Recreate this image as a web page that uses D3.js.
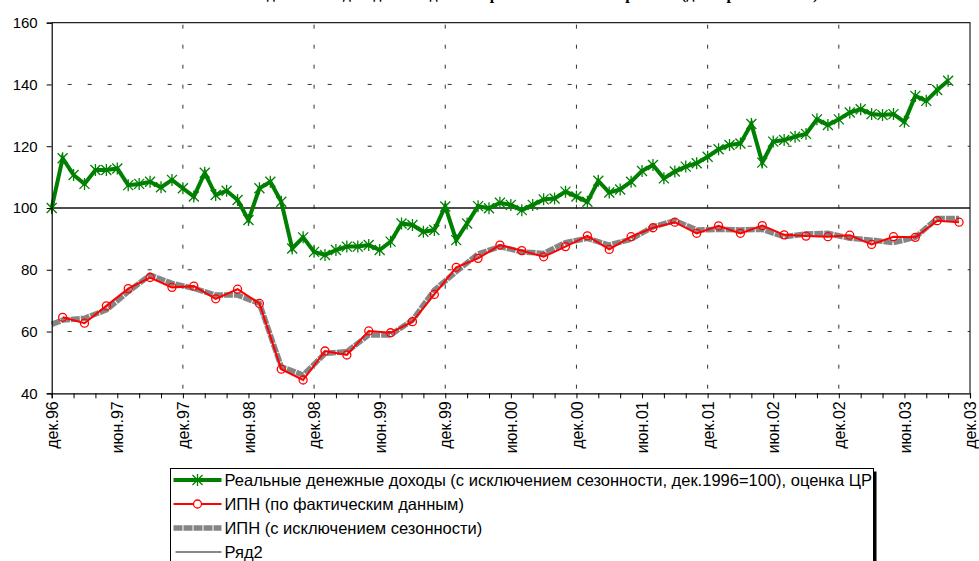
<!DOCTYPE html>
<html>
<head>
<meta charset="utf-8">
<script src="https://cdn.jsdelivr.net/npm/d3@7"></script>
<style>
body { margin: 0; background: #fff; }
text { font-family: "Liberation Sans", Arial, sans-serif; fill: #000; }
</style>
</head>
<body>
<script>
//Tick labels (every 6 months, starting дек.96)
const tickLabels = ["дек.96","июн.97","дек.97","июн.98","дек.98","июн.99","дек.99","июн.00",
                    "дек.00","июн.01","дек.01","июн.02","дек.02","июн.03","дек.03"];
const yTicks = [40, 60, 80, 100, 120, 140, 160];

//Real money incomes, monthly from дек.96
const incomeReal = [100.0,116.1,110.7,107.8,112.3,112.3,112.8,107.4,107.8,108.5,106.7,109.1,
  106.4,103.7,111.4,104.2,105.6,102.6,96.1,106.4,108.5,102.0,86.9,90.5,
  85.8,84.8,86.4,87.5,87.5,88.0,86.4,89.1,95.0,94.5,92.3,92.9,
  100.5,89.6,95.0,100.6,99.9,101.7,101.0,99.3,101.0,102.8,103.1,105.3,
  103.7,102.0,108.8,105.0,106.0,108.5,112.0,113.9,109.6,111.8,113.4,114.5,
  116.6,119.0,120.4,120.9,127.2,114.7,121.5,122.0,123.1,124.0,128.7,126.9,
  128.7,130.9,132.0,130.4,130.1,130.4,127.9,136.3,134.7,138.2,141.2];

//ИПН actual, every second month from янв.97
const ipnActual = [64.6,62.7,68.3,73.9,77.5,74.3,74.7,70.6,73.7,69.1,
  47.8,44.3,53.7,52.4,60.2,59.6,63.2,72.0,80.8,83.7,
  88.0,86.2,84.2,87.5,91.0,86.6,90.7,93.6,95.4,91.8,
  94.2,91.8,94.3,91.3,90.9,90.7,91.2,88.2,90.7,90.5,
  95.9,95.4];
const ipnActualMonths = d3.range(1, 84, 2);

//ИПН seasonally adjusted
const ipnSeasAdj = [62.3,63.7,64.3,67.0,72.9,78.3,75.6,74.0,71.8,71.8,69.1,
  48.6,45.9,52.9,53.5,58.9,58.9,63.7,73.4,79.4,85.1,
  87.5,85.8,85.3,88.8,90.2,88.0,89.9,93.9,95.9,92.9,
  93.1,92.9,93.1,90.7,91.6,91.8,90.2,89.6,88.8,90.5,
  96.6,96.6];
const ipnSeasAdjMonths = [0].concat(d3.range(1, 84, 2));

//Ряд2: base level
const baseLevel = [100, 100];
const baseMonths = [0, 84];

const legendNames = ["Реальные денежные доходы (с исключением сезонности, дек.1996=100), оценка ЦР",
                     "ИПН (по фактическим данным)",
                     "ИПН (с исключением сезонности)",
                     "Ряд2"];
const titleText = "Реальные денежные доходы и индекс потребительских настроений (декабрь 1996=100)";

//Margins
const margin = {top: 22.7, right: 9, bottom: 167.7, left: 51.7};
const width = 979 - margin.left - margin.right;
const height = 561 - margin.top - margin.bottom;

const svg = d3.select("body")
  .append("svg")
  .attr("width", 979)
  .attr("height", 561);

//Title sits mostly above the top edge, as in the source picture
svg.append("text")
  .attr("x", 505)
  .attr("y", -1.5)
  .attr("text-anchor", "middle")
  .style("font-family", "'Liberation Serif', 'Times New Roman', serif")
  .style("font-weight", "bold")
  .style("font-size", "16px")
  .text(titleText);

const chartGroup = svg.append("g")
  .attr("transform", `translate(${margin.left},${margin.top})`);

const x = d3.scaleLinear().domain([0, 84]).range([0, width]);
const y = d3.scaleLinear().domain([40, 160]).range([height, 0]);

//Gridlines
chartGroup.append("g")
  .selectAll("line")
  .data([60, 80, 120, 140])
  .enter().append("line")
  .attr("x1", 0).attr("x2", width)
  .attr("y1", d => y(d)).attr("y2", d => y(d))
  .attr("stroke", "#333")
  .attr("stroke-dasharray", "4,16")
  .attr("stroke-dashoffset", -16);

chartGroup.append("g")
  .selectAll("line")
  .data(d3.range(12, 84, 12))
  .enter().append("line")
  .attr("x1", d => x(d)).attr("x2", d => x(d))
  .attr("y1", 0).attr("y2", height)
  .attr("stroke", "#333")
  .attr("stroke-dasharray", "4,16")
  .attr("stroke-dashoffset", -2);

//Plot border top / right
chartGroup.append("path")
  .attr("d", `M0,${y(160)}H${x(84)}V${height}`)
  .attr("fill", "none")
  .attr("stroke", "#222")
  .attr("stroke-width", 1.2);

//ИПН seasonally adjusted
const lineGen = (xs, vals) => d3.line()
  .x((d, i) => x(xs[i]))
  .y(d => y(d))(vals);

const greyStyle = sel => sel
  .attr("fill", "none")
  .attr("stroke", "#858585")
  .attr("stroke-width", 5.5)
  .attr("stroke-dasharray", "9,1");

chartGroup.append("path")
  .attr("d", lineGen(ipnSeasAdjMonths, ipnSeasAdj))
  .call(greyStyle);

//ИПН actual
chartGroup.append("path")
  .attr("d", lineGen(ipnActualMonths, ipnActual))
  .attr("fill", "none")
  .attr("stroke", "#ff0000")
  .attr("stroke-width", 2);

chartGroup.append("g")
  .selectAll("circle")
  .data(ipnActual)
  .enter().append("circle")
  .attr("cx", (d, i) => x(ipnActualMonths[i]))
  .attr("cy", d => y(d))
  .attr("r", 4)
  .attr("fill", "none")
  .attr("stroke", "#ff0000")
  .attr("stroke-width", 1.3);

//Ряд2
chartGroup.append("path")
  .attr("d", lineGen(baseMonths, baseLevel))
  .attr("fill", "none")
  .attr("stroke", "#111")
  .attr("stroke-width", 1.5);

//Real incomes
const starPath = "M-5,-5L5,5M-5,5L5,-5M0,-6L0,6";
chartGroup.append("path")
  .attr("d", lineGen(d3.range(incomeReal.length), incomeReal))
  .attr("fill", "none")
  .attr("stroke", "#008000")
  .attr("stroke-width", 4);

chartGroup.append("g")
  .selectAll("path")
  .data(incomeReal)
  .enter().append("path")
  .attr("transform", (d, i) => `translate(${x(i)},${y(d)})`)
  .attr("d", starPath)
  .attr("stroke", "#008000")
  .attr("stroke-width", 1.3);

//Y-Axis
const yAxis = chartGroup.append("g")
  .call(d3.axisLeft(y).tickValues(yTicks).tickSize(5).tickPadding(9));
yAxis.selectAll("text").style("font-size", "15px");

//X-Axis
const xAxis = chartGroup.append("g")
  .attr("transform", `translate(0,${height})`)
  .call(d3.axisBottom(x)
    .tickValues(d3.range(0, 85, 2))
    .tickSize(5)
    .tickFormat(d => d % 6 === 0 ? tickLabels[d / 6] : ""));
xAxis.selectAll("text")
  .style("font-size", "16px")
  .style("text-anchor", "end")
  .attr("x", -8)
  .attr("y", 0)
  .attr("dy", "0.35em")
  .attr("transform", "rotate(-90)");

[yAxis, xAxis].forEach(a => {
  a.select(".domain").attr("stroke", "#000").attr("stroke-width", 1.2);
  a.selectAll(".tick line").attr("stroke", "#000");
});

//Legend
const lg = svg.append("g").attr("transform", "translate(170.5,468.5)");
lg.append("rect").attr("x", 3).attr("y", 3).attr("width", 703).attr("height", 120).attr("fill", "#000");
lg.append("rect").attr("width", 703).attr("height", 120).attr("fill", "#fff").attr("stroke", "#000");

const rowY = i => 11.5 + i * 24;
const sx1 = 3, sx2 = 51, smid = 27;

lg.append("line").attr("x1", sx1).attr("x2", sx2).attr("y1", rowY(0)).attr("y2", rowY(0))
  .attr("stroke", "#008000").attr("stroke-width", 4);
lg.append("path").attr("transform", `translate(${smid},${rowY(0)})`).attr("d", starPath)
  .attr("stroke", "#008000").attr("stroke-width", 1.3);

lg.append("line").attr("x1", sx1).attr("x2", sx2).attr("y1", rowY(1)).attr("y2", rowY(1))
  .attr("stroke", "#ff0000").attr("stroke-width", 2);
lg.append("circle").attr("cx", smid).attr("cy", rowY(1)).attr("r", 4)
  .attr("fill", "#fff").attr("stroke", "#ff0000").attr("stroke-width", 1.3);

lg.append("line").attr("x1", sx1).attr("x2", sx2).attr("y1", rowY(2)).attr("y2", rowY(2))
  .call(greyStyle);

lg.append("line").attr("x1", sx1 + 2).attr("x2", sx2).attr("y1", rowY(3)).attr("y2", rowY(3))
  .attr("stroke", "#111").attr("stroke-width", 1.2);

lg.selectAll("text.lbl")
  .data(legendNames)
  .enter().append("text")
  .attr("class", "lbl")
  .attr("x", 54)
  .attr("y", (d, i) => rowY(i))
  .attr("dy", "0.36em")
  .style("font-size", "16.5px")
  .text(d => d);
</script>
</body>
</html>
